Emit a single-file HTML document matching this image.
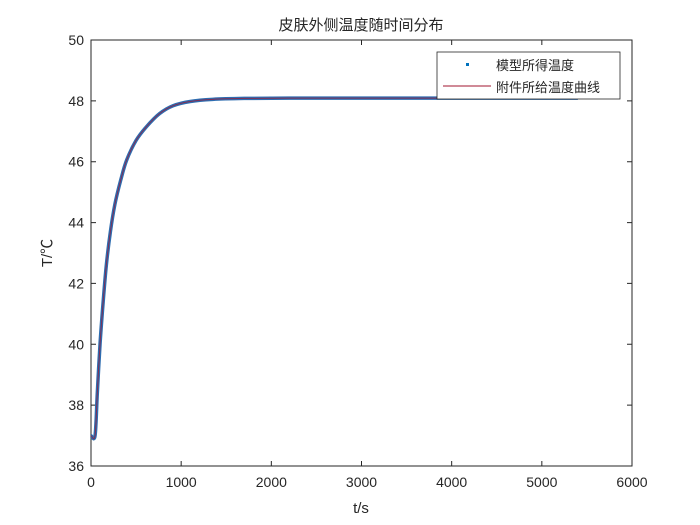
<!DOCTYPE html>
<html><head><meta charset="utf-8"><style>
body{margin:0;background:#fff;}
svg{display:block;font-family:"Liberation Sans","Noto Sans CJK SC",sans-serif;}
</style></head><body>
<svg id="chart" width="700" height="525">
<rect x="0" y="0" width="700" height="525" fill="#fff"/>
<rect x="91" y="40" width="541" height="426" fill="#fff" stroke="#262626" stroke-width="1"/>
<g id="ticks"></g>
<g id="series"></g>
<text x="361" y="30" text-anchor="middle" font-size="15" fill="#262626" font-family="'Noto Sans CJK SC',sans-serif">皮肤外侧温度随时间分布</text>
<text x="361" y="513" text-anchor="middle" font-size="15" fill="#262626">t/s</text>
<text transform="translate(52,253) rotate(-90)" text-anchor="middle" font-size="15" fill="#262626" font-family="'Liberation Sans','Noto Sans CJK SC',sans-serif">T/℃</text>
<g>
<rect x="437" y="52" width="183" height="47" fill="#fff" stroke="#262626" stroke-width="0.8"/>
<rect x="466" y="63" width="3" height="3" fill="#0072BD"/>
<text x="496" y="70" font-size="13" fill="#262626" font-family="'Noto Sans CJK SC',sans-serif">模型所得温度</text>
<line x1="443" y1="86" x2="491" y2="86" stroke="#A2142F" stroke-width="1"/>
<text x="496" y="92" font-size="13" fill="#262626" font-family="'Noto Sans CJK SC',sans-serif">附件所给温度曲线</text>
</g>
</svg>
<script>
const xTicks=[0,1000,2000,3000,4000,5000,6000];
const yTicks=[36,38,40,42,44,46,48,50];
const times=[0,45,70,100,135,170,215,265,330,395,500,615,760,910,1100,1350,1700,2200,3000,4000,5400];
const temps=[37.0,37.0,38.4,40.0,41.4,42.6,43.7,44.6,45.4,46.05,46.7,47.15,47.58,47.84,47.98,48.05,48.08,48.09,48.09,48.09,48.09];
const X=v=>91+(v-0)/6000*541;
const Y=v=>466-(v-36)/14*426;
const ns="http://www.w3.org/2000/svg";
const tg=document.getElementById('ticks');
xTicks.forEach(v=>{
 const l=document.createElementNS(ns,'path');
 l.setAttribute('d',`M${X(v)},466v-5M${X(v)},40v5`);
 l.setAttribute('stroke','#262626');
 
 
 tg.appendChild(l);
 const t=document.createElementNS(ns,'text');
 t.setAttribute('x',X(v));t.setAttribute('y',487);t.setAttribute('text-anchor','middle');
 t.setAttribute('font-size','14');t.setAttribute('fill','#262626');
 t.textContent=v;
 
 
 tg.appendChild(t);
});
yTicks.forEach(v=>{
 const l=document.createElementNS(ns,'path');
 l.setAttribute('d',`M91,${Y(v)}h5M632,${Y(v)}h-5`);
 l.setAttribute('stroke','#262626');
 
 
 tg.appendChild(l);
 const t=document.createElementNS(ns,'text');
 t.setAttribute('x',84);t.setAttribute('y',Y(v)+5);t.setAttribute('text-anchor','end');
 t.setAttribute('font-size','14');t.setAttribute('fill','#262626');
 t.textContent=v;
 
 
 tg.appendChild(t);
});
const sg=document.getElementById('series');
const pts=times.map((t,i)=>[X(t),Y(temps[i])]);
let d='M'+pts[0][0].toFixed(2)+','+pts[0][1].toFixed(2);
for(let i=0;i<pts.length-1;i++){
 const p0=pts[i-1]||pts[i],p1=pts[i],p2=pts[i+1],p3=pts[i+2]||p2;
 const c1=[p1[0]+(p2[0]-p0[0])/6,p1[1]+(p2[1]-p0[1])/6];
 const c2=[p2[0]-(p3[0]-p1[0])/6,p2[1]-(p3[1]-p1[1])/6];
 d+=`C${c1[0].toFixed(2)},${c1[1].toFixed(2)} ${c2[0].toFixed(2)},${c2[1].toFixed(2)} ${p2[0].toFixed(2)},${p2[1].toFixed(2)}`;
}
const q1=document.createElementNS(ns,'path');
q1.setAttribute('d',d);q1.setAttribute('fill','none');q1.setAttribute('stroke','#2E6DB0');q1.setAttribute('stroke-width','3.5');q1.setAttribute('stroke-linejoin','round');


sg.appendChild(q1);
const q2=document.createElementNS(ns,'path');
q2.setAttribute('d',d);q2.setAttribute('fill','none');q2.setAttribute('stroke','#A2142F');q2.setAttribute('stroke-width','1');q2.setAttribute('stroke-opacity','0.7');


sg.appendChild(q2);
</script>
</body></html>
